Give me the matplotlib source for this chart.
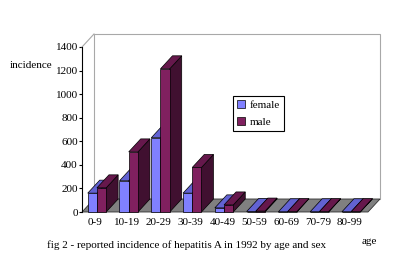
import numpy as np
import matplotlib.pyplot as plt
from matplotlib.patches import Polygon, Patch

# data
ages = ["0-9", "10-19", "20-29", "30-39", "40-49", "50-59", "60-69", "70-79", "80-99"]
female = [160, 265, 630, 160, 35, 4, 2, 2, 2]
male = [205, 510, 1215, 378, 60, 8, 3, 3, 3]

yticks = [0, 200, 400, 600, 800, 1000, 1200, 1400]

plt.rcParams['font.family'] = ['Liberation Serif', 'DejaVu Serif']

W, H = 400, 262
fig = plt.figure(figsize=(W / 100, H / 100), dpi=100)

# front plane of the 3d box, in pixels
x_left, x_right = 82, 368
y_bottom, y_top = 212, 47
ax = fig.add_axes([x_left / W, 1 - y_bottom / H,
                   (x_right - x_left) / W, (y_bottom - y_top) / H])
ax.set_xlim(-0.5, len(ages) - 0.5)
ax.set_ylim(0, 1400)

# depth offset (pixels) -> data units
DX, DY = 12, 13
dx = DX * len(ages) / (x_right - x_left)
dy = DY * 1400 / (y_bottom - y_top)

x0, x1 = -0.5, len(ages) - 0.5

# back wall, left wall edge, floor
ax.add_patch(Polygon([(x0 + dx, dy), (x1 + dx, dy), (x1 + dx, 1400 + dy), (x0 + dx, 1400 + dy)],
                     closed=True, fc='white', ec='#a8a8a8', lw=0.8, clip_on=False))
ax.plot([x0, x0 + dx], [1400, 1400 + dy], color='#a8a8a8', lw=0.8, clip_on=False)
ax.add_patch(Polygon([(x0, 0), (x1, 0), (x1 + dx, dy), (x0 + dx, dy)],
                     closed=True, fc='#808080', ec='#303030', lw=0.6, clip_on=False))

f_cols = ('#8080ff', '#6262d2', '#3c3c8c')
m_cols = ('#80205f', '#66184c', '#401030')
bw = 0.29


def bar3d(xl, h, cols):
    front, top, side = cols
    ax.add_patch(Polygon([(xl + bw, 0), (xl + bw + dx, dy), (xl + bw + dx, h + dy), (xl + bw, h)],
                         closed=True, fc=side, ec='black', lw=0.5, clip_on=False))
    ax.add_patch(Polygon([(xl, h), (xl + bw, h), (xl + bw + dx, h + dy), (xl + dx, h + dy)],
                         closed=True, fc=top, ec='black', lw=0.5, clip_on=False))
    ax.bar(xl, h, bw, align='edge', color=front, edgecolor='black', lw=0.5, clip_on=False)


for i in range(len(ages)):
    bar3d(i - 0.32, female[i], f_cols)
    bar3d(i - 0.32 + bw, male[i], m_cols)

for s in ['top', 'right', 'bottom']:
    ax.spines[s].set_visible(False)
ax.spines['left'].set_linewidth(0.8)

ax.set_yticks(yticks)
ax.set_yticklabels([str(v) for v in yticks], fontsize=8)
ax.tick_params(axis='y', length=2.5, width=0.8, pad=0.5)
ax.set_xticks(np.arange(len(ages)) - 0.08)
ax.set_xticklabels(ages, fontsize=8)
ax.tick_params(axis='x', length=0, pad=4)

fig.text(10 / W, 1 - 66 / H, "incidence", fontsize=8, va='center', ha='left')
fig.text(47 / W, 1 - 245 / H, "fig 2 - reported incidence of hepatitis A in 1992 by age and sex",
         fontsize=8, va='center', ha='left')
fig.text(362 / W, 1 - 241 / H, "age", fontsize=8, va='center', ha='left')

handles = [Patch(fc=f_cols[0], ec='black', lw=0.5), Patch(fc=m_cols[0], ec='black', lw=0.5)]
leg = fig.legend(handles, ["female", "male"], loc='upper left',
                 bbox_to_anchor=(233 / W, 1 - 96 / H), fontsize=8,
                 handlelength=0.7, handleheight=0.7, handletextpad=0.4,
                 borderpad=0.4, labelspacing=0.6, borderaxespad=0,
                 fancybox=False, edgecolor='black', framealpha=1)
leg.get_frame().set_linewidth(0.8)

fig.savefig("out.png", dpi=100)
